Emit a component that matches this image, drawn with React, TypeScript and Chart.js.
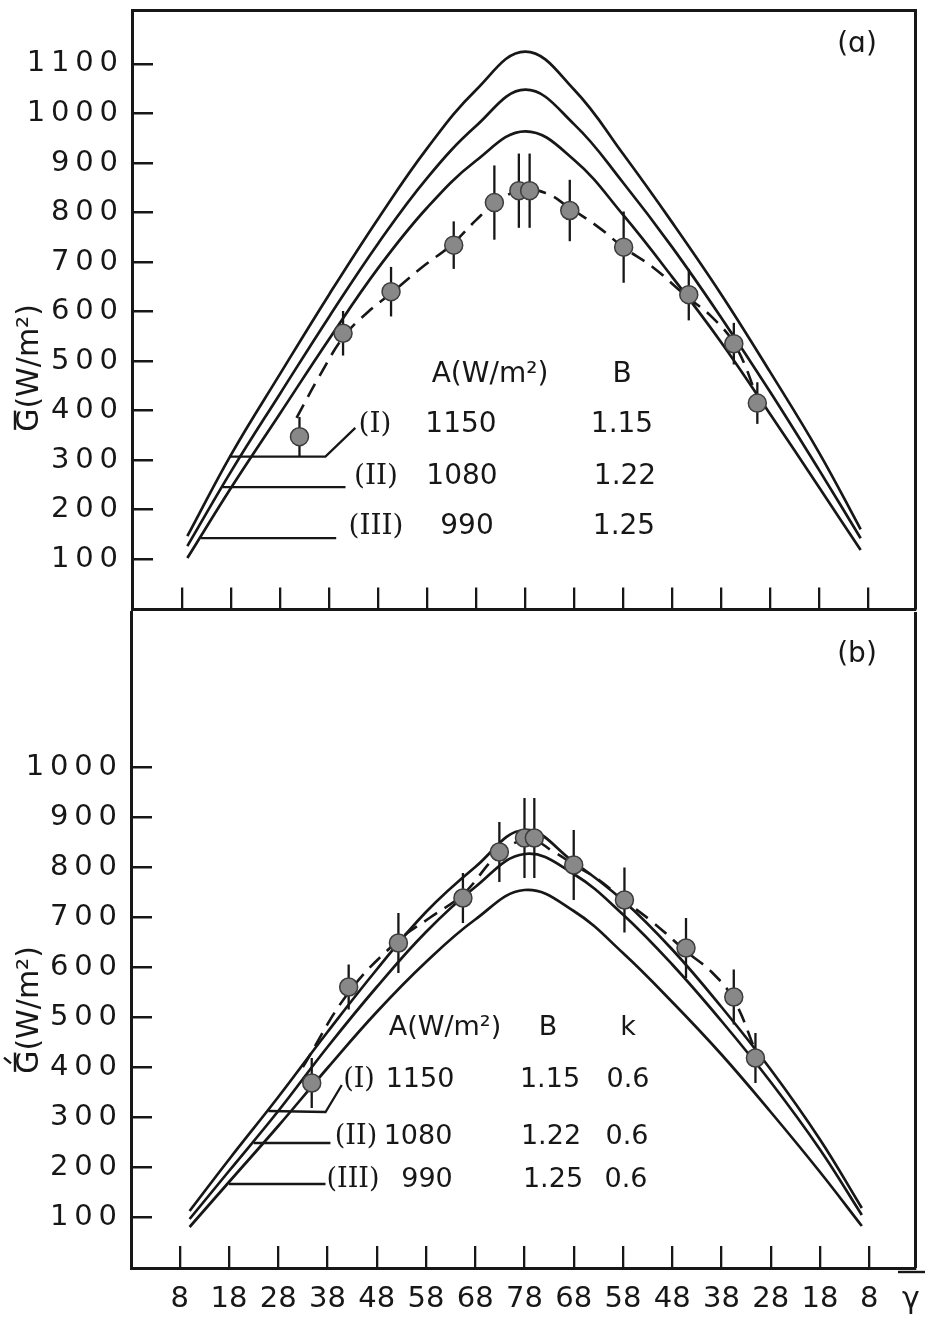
import React, { useEffect, useRef } from "react";
import { Chart, registerables } from "chart.js";

Chart.register(...registerables);

// ---------------- data ----------------
const X_TICK_POSITIONS = [0, 1, 2, 3, 4, 5, 6, 7, 8, 9, 10, 11, 12, 13, 14];
const X_TICK_LABELS = ["8", "18", "28", "38", "48", "58", "68", "78", "68", "58", "48", "38", "28", "18", "8"];
const Y_TICKS_A = [100, 200, 300, 400, 500, 600, 700, 800, 900, 1000, 1100];
const Y_TICKS_B = [100, 200, 300, 400, 500, 600, 700, 800, 900, 1000];

// panel (a): model curves
const A_CURVE_X = [0.1, 1, 2, 3, 4, 5, 6, 7, 8, 9, 10, 11, 12, 13, 13.85];
const A_CURVE_I = [146, 312, 475, 635, 788, 930, 1048, 1125, 1048, 918, 780, 635, 478, 315, 160];
const A_CURVE_II = [126, 278, 435, 590, 738, 870, 975, 1048, 978, 860, 730, 588, 438, 280, 142];
const A_CURVE_III = [102, 245, 395, 545, 688, 810, 905, 964, 906, 795, 670, 538, 393, 245, 118];

// panel (a): measurements with error bars
const A_OBS_X = [2.39, 3.28, 4.26, 5.54, 6.37, 6.87, 7.09, 7.91, 9.01, 10.34, 11.26, 11.74];
const A_OBS_Y = [347, 556, 640, 734, 820, 844, 844, 804, 730, 634, 535, 415];
const A_OBS_ERR = [40, 45, 50, 48, 75, 75, 75, 62, 72, 52, 42, 42];

// panel (a): dashed curve through measurements
const A_FIT_X = [2.33, 2.8, 3.3, 3.8, 4.3, 4.9, 5.5, 6.0, 6.4, 6.9, 7.4, 7.9, 8.5, 9.0, 9.6, 10.3, 10.8, 11.3, 11.8];
const A_FIT_Y = [385, 470, 550, 600, 640, 690, 735, 785, 820, 845, 840, 810, 770, 730, 690, 630, 590, 530, 410];

// panel (a): legend leader lines
const A_LEAD_I_X = [0.95, 2.92, 3.53];
const A_LEAD_I_Y = [307, 307, 365];
const A_LEAD_II_X = [0.82, 3.33];
const A_LEAD_II_Y = [245, 245];
const A_LEAD_III_X = [0.38, 3.14];
const A_LEAD_III_Y = [142, 142];

// panel (b): model curves
const B_CURVE_X = [0.2, 1, 2, 3, 4, 5, 6, 7, 8, 9, 10, 11, 12, 13, 13.85];
const B_CURVE_I = [112, 215, 340, 470, 595, 710, 800, 874, 810, 733, 635, 520, 395, 255, 118];
const B_CURVE_II = [96, 192, 312, 440, 560, 670, 760, 826, 786, 705, 605, 492, 370, 235, 104];
const B_CURVE_III = [80, 170, 282, 398, 510, 610, 695, 754, 712, 628, 530, 425, 310, 190, 82];

// panel (b): measurements with error bars
const B_OBS_X = [2.68, 3.43, 4.44, 5.75, 6.49, 7.0, 7.2, 8.0, 9.03, 10.28, 11.25, 11.69];
const B_OBS_Y = [368, 560, 648, 738, 830, 858, 858, 804, 734, 638, 540, 418];
const B_OBS_ERR = [50, 45, 60, 50, 60, 80, 80, 70, 65, 60, 55, 50];

// panel (b): dashed curve
const B_FIT_X = [2.5, 3.4, 4.4, 5.1, 5.75, 6.5, 7.1, 7.6, 8.0, 8.5, 9.0, 9.6, 10.3, 10.8, 11.25, 11.7];
const B_FIT_Y = [400, 545, 650, 700, 745, 828, 855, 830, 805, 775, 735, 690, 630, 590, 535, 430];

// panel (b): legend leader lines
const B_LEAD_I_X = [1.8, 2.96, 3.29];
const B_LEAD_I_Y = [312, 310, 364];
const B_LEAD_II_X = [1.5, 3.06];
const B_LEAD_II_Y = [248, 248];
const B_LEAD_III_X = [1.0, 2.96];
const B_LEAD_III_Y = [166, 166];

// legend table texts
const ROMAN = ["(I)", "(II)", "(III)"];
const A_VALUES = ["1150", "1080", "990"];
const B_VALUES = ["1.15", "1.22", "1.25"];
const K_VALUES = ["0.6", "0.6", "0.6"];

// ---------------- styling ----------------
const INK = "#171717";
const SANS = "'DejaVu Sans', sans-serif";
const SERIF = "'DejaVu Serif', serif";

const pts = (xs: number[], ys: number[]) => xs.map((x, i) => ({ x, y: ys[i] }));

function curveDs(xs: number[], ys: number[]) {
  return {
    data: pts(xs, ys),
    showLine: true,
    borderColor: INK,
    borderWidth: 2.7,
    pointRadius: 0,
    tension: 0.4,
    fill: false,
  };
}
function fitDs(xs: number[], ys: number[]) {
  return {
    data: pts(xs, ys),
    showLine: true,
    borderColor: INK,
    borderWidth: 2.6,
    borderDash: [15, 9],
    pointRadius: 0,
    tension: 0.4,
    fill: false,
  };
}
function leaderDs(xs: number[], ys: number[]) {
  return {
    data: pts(xs, ys),
    showLine: true,
    borderColor: INK,
    borderWidth: 2.3,
    pointRadius: 0,
    tension: 0,
    fill: false,
  };
}
function obsDs(xs: number[], ys: number[], err: number[]) {
  return {
    data: pts(xs, ys),
    showLine: false,
    pointRadius: 9,
    pointBackgroundColor: "#888888",
    pointBorderColor: "#3c3c3c",
    pointBorderWidth: 1.5,
    errorBars: err,
  };
}

const errorBarPlugin = {
  id: "errorBars",
  beforeDatasetsDraw(chart: any) {
    const { ctx } = chart;
    const x = chart.scales.x;
    const y = chart.scales.y;
    chart.data.datasets.forEach((ds: any) => {
      if (!ds.errorBars) return;
      ctx.save();
      ctx.strokeStyle = INK;
      ctx.lineWidth = 2.3;
      ds.data.forEach((p: any, i: number) => {
        const e = ds.errorBars[i];
        const px = x.getPixelForValue(p.x);
        ctx.beginPath();
        ctx.moveTo(px, y.getPixelForValue(p.y + e));
        ctx.lineTo(px, y.getPixelForValue(p.y - e));
        ctx.stroke();
      });
      ctx.restore();
    });
  },
};

function xScale(min: number, max: number, withLabels: boolean, height: number) {
  return {
    type: "linear",
    position: "bottom",
    min,
    max,
    afterBuildTicks: (s: any) => {
      s.ticks = X_TICK_POSITIONS.map((v) => ({ value: v }));
    },
    afterFit: (s: any) => {
      s.height = height;
      s.paddingLeft = 0;
      s.paddingRight = 0;
      s.paddingTop = 0;
      s.paddingBottom = 0;
    },
    grid: { display: true, drawOnChartArea: false, drawTicks: true, tickLength: -22, lineWidth: 2.3, color: INK },
    border: { display: true, width: 3, color: INK },
    ticks: {
      display: withLabels,
      autoSkip: false,
      maxRotation: 0,
      minRotation: 0,
      padding: 36,
      color: INK,
      font: { family: SANS, size: 29 },
      callback: (v: number) => {
        const k = X_TICK_POSITIONS.indexOf(v);
        return k >= 0 ? X_TICK_LABELS[k] : "";
      },
    },
  };
}

function yScale(min: number, max: number, tickValues: number[], width: number) {
  return {
    type: "linear",
    position: "left",
    min,
    max,
    afterBuildTicks: (s: any) => {
      s.ticks = tickValues.map((v) => ({ value: v }));
    },
    afterFit: (s: any) => {
      s.width = width;
      s.paddingTop = 0;
      s.paddingBottom = 0;
      s.paddingLeft = 0;
      s.paddingRight = 0;
    },
    grid: { display: true, drawOnChartArea: false, drawTicks: true, tickLength: -21, lineWidth: 2.5, color: INK },
    border: { display: true, width: 3, color: INK },
    ticks: {
      padding: 35,
      color: INK,
      font: { family: SANS, size: 29 },
      callback: (v: number) => String(v).split("").join("\u2009"),
    },
  };
}

function txt(ctx: any, s: string, x: number, y: number, font: string, align = "center") {
  ctx.font = font;
  ctx.textAlign = align;
  ctx.textBaseline = "middle";
  ctx.fillText(s, x, y);
}

function drawYTitle(ctx: any, cx: number, cy: number, prime: boolean) {
  ctx.save();
  ctx.translate(cx, cy);
  ctx.rotate(-Math.PI / 2);
  ctx.font = `30px ${SANS}`;
  ctx.fillStyle = INK;
  ctx.textBaseline = "middle";
  ctx.textAlign = "left";
  const s = "G(W/m\u00B2)";
  const w = ctx.measureText(s).width;
  const gw = ctx.measureText("G").width;
  const x0 = -w / 2;
  ctx.fillText(s, x0, 0);
  ctx.strokeStyle = INK;
  ctx.lineWidth = 2.4;
  ctx.beginPath();
  ctx.moveTo(x0 + 2, -15);
  ctx.lineTo(x0 + gw - 2, -15);
  ctx.stroke();
  if (prime) {
    ctx.beginPath();
    ctx.moveTo(x0 + gw * 0.45, -19);
    ctx.lineTo(x0 + gw * 0.7, -26);
    ctx.stroke();
  }
  ctx.restore();
}

const framePluginA = {
  id: "frameA",
  afterDraw(chart: any) {
    const { ctx, chartArea: ca } = chart;
    ctx.save();
    ctx.strokeStyle = INK;
    ctx.lineWidth = 3;
    ctx.beginPath();
    ctx.moveTo(ca.left, ca.top);
    ctx.lineTo(ca.right, ca.top);
    ctx.lineTo(ca.right, ca.bottom);
    ctx.stroke();

    ctx.fillStyle = INK;
    drawYTitle(ctx, 30, 368, false);
    txt(ctx, "(\u0251)", 857, 45, `28px ${SANS}`);

    const f = `28px ${SANS}`;
    const fr = `28px ${SERIF}`;
    txt(ctx, "A(W/m\u00B2)", 490, 375, f);
    txt(ctx, "B", 622, 375, f);
    const rowsY = [425, 477, 527];
    const romanX = [375, 376, 376];
    const aX = [461, 462, 467];
    const bX = [622, 625, 624];
    rowsY.forEach((yy, i) => {
      txt(ctx, ROMAN[i], romanX[i], yy, fr);
      txt(ctx, A_VALUES[i], aX[i], yy, f);
      txt(ctx, B_VALUES[i], bX[i], yy, f);
    });
    ctx.restore();
  },
};

const OFF_B = 600;
const framePluginB = {
  id: "frameB",
  afterDraw(chart: any) {
    const { ctx, chartArea: ca } = chart;
    ctx.save();
    ctx.strokeStyle = INK;
    ctx.lineWidth = 3;
    ctx.beginPath();
    ctx.moveTo(ca.right, ca.top);
    ctx.lineTo(ca.right, ca.bottom);
    ctx.stroke();

    ctx.fillStyle = INK;
    drawYTitle(ctx, 30, 1010 - OFF_B, true);
    txt(ctx, "(b)", 857, 655 - OFF_B, `28px ${SANS}`);

    // gamma axis symbol
    txt(ctx, "\u03B3", 911, 1300 - OFF_B, `30px ${SANS}`);
    ctx.lineWidth = 2.4;
    ctx.beginPath();
    ctx.moveTo(898, 1272 - OFF_B);
    ctx.lineTo(925, 1272 - OFF_B);
    ctx.stroke();

    const f = `27px ${SANS}`;
    const fr = `27px ${SERIF}`;
    txt(ctx, "A(W/m\u00B2)", 445, 1028 - OFF_B, f);
    txt(ctx, "B", 548, 1028 - OFF_B, f);
    txt(ctx, "k", 628, 1028 - OFF_B, f);
    const rowsY = [1080, 1137, 1180];
    const romanX = [359, 356, 353];
    const aX = [420, 418, 427];
    const bX = [550, 551, 553];
    const kX = [628, 627, 626];
    rowsY.forEach((yy, i) => {
      txt(ctx, ROMAN[i], romanX[i], yy - OFF_B, fr);
      txt(ctx, A_VALUES[i], aX[i], yy - OFF_B, f);
      txt(ctx, B_VALUES[i], bX[i], yy - OFF_B, f);
      txt(ctx, K_VALUES[i], kX[i], yy - OFF_B, f);
    });
    ctx.restore();
  },
};

function configA(): any {
  return {
    type: "line",
    data: {
      datasets: [
        obsDs(A_OBS_X, A_OBS_Y, A_OBS_ERR),
        fitDs(A_FIT_X, A_FIT_Y),
        curveDs(A_CURVE_X, A_CURVE_I),
        curveDs(A_CURVE_X, A_CURVE_II),
        curveDs(A_CURVE_X, A_CURVE_III),
        leaderDs(A_LEAD_I_X, A_LEAD_I_Y),
        leaderDs(A_LEAD_II_X, A_LEAD_II_Y),
        leaderDs(A_LEAD_III_X, A_LEAD_III_Y),
      ],
    },
    options: {
      responsive: false,
      animation: false,
      devicePixelRatio: 1,
      events: [],
      layout: { padding: { left: 0, right: 5, top: 6, bottom: 0 } },
      plugins: { legend: { display: false }, tooltip: { enabled: false }, title: { display: false } },
      scales: {
        x: xScale(-1.03, 14.97, false, 8),
        y: yScale(-2, 1208, Y_TICKS_A, 132),
      },
    },
    plugins: [errorBarPlugin, framePluginA],
  };
}

function configB(): any {
  return {
    type: "line",
    data: {
      datasets: [
        obsDs(B_OBS_X, B_OBS_Y, B_OBS_ERR),
        fitDs(B_FIT_X, B_FIT_Y),
        curveDs(B_CURVE_X, B_CURVE_I),
        curveDs(B_CURVE_X, B_CURVE_II),
        curveDs(B_CURVE_X, B_CURVE_III),
        leaderDs(B_LEAD_I_X, B_LEAD_I_Y),
        leaderDs(B_LEAD_II_X, B_LEAD_II_Y),
        leaderDs(B_LEAD_III_X, B_LEAD_III_Y),
      ],
    },
    options: {
      responsive: false,
      animation: false,
      devicePixelRatio: 1,
      events: [],
      layout: { padding: { left: 0, right: 5, top: 12, bottom: 0 } },
      plugins: { legend: { display: false }, tooltip: { enabled: false }, title: { display: false } },
      scales: {
        x: xScale(-0.99, 14.94, true, 56),
        y: yScale(-2, 1310, Y_TICKS_B, 131),
      },
    },
    plugins: [errorBarPlugin, framePluginB],
  };
}

export default function App() {
  const refA = useRef<HTMLCanvasElement>(null);
  const refB = useRef<HTMLCanvasElement>(null);
  useEffect(() => {
    const a = new Chart(refA.current as HTMLCanvasElement, configA());
    const b = new Chart(refB.current as HTMLCanvasElement, configB());
    return () => {
      a.destroy();
      b.destroy();
    };
  }, []);
  return (
    <div style={{ position: "absolute", left: 0, top: 0, width: 926, height: 1324, background: "#fff" }}>
      <canvas
        ref={refA}
        width={926}
        height={620}
        style={{ position: "absolute", left: 0, top: 0, width: 926, height: 620 }}
      />
      <canvas
        ref={refB}
        width={926}
        height={724}
        style={{ position: "absolute", left: 0, top: 600, width: 926, height: 724 }}
      />
    </div>
  );
}
